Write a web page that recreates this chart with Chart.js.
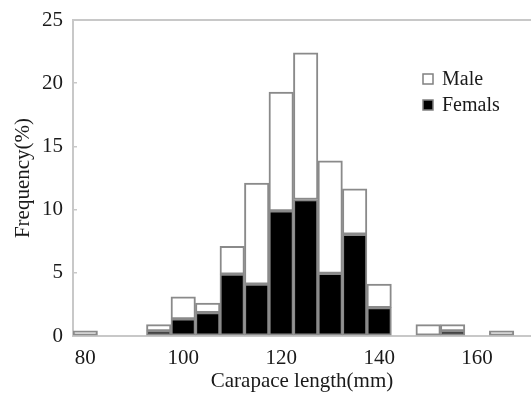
<!DOCTYPE html>
<html>
<head>
<meta charset="utf-8">
<script src="https://cdn.jsdelivr.net/npm/chart.js@4"></script>
<style>
  html, body { margin: 0; padding: 0; background: #fff; }
</style>
</head>
<body>
<canvas id="barChart" width="531" height="396"></canvas>
<script>
// carapace length bins (mm, bin centres) and frequencies (%)
var lengthBins = [80, 95, 100, 105, 110, 115, 120, 125, 130, 135, 140, 150, 155, 165];
var femaleFreq = [null, 0.4, 1.35, 1.85, 4.9, 4.1, 9.9, 10.8, 4.95, 8.05, 2.25, null, 0.4, null];
var maleFreq = [0.4, 0.5, 1.75, 0.75, 2.2, 8.0, 9.4, 11.6, 8.9, 3.6, 1.85, 0.9, 0.5, 0.4];
var xTicks = [80, 100, 120, 140, 160];
var yTicks = [0, 5, 10, 15, 20, 25];

var serif = '"Liberation Serif", "Times New Roman", serif';

function toPoints(vals) {
    return lengthBins.map(function (x, i) { return { x: x, y: vals[i] }; });
}

// legend drawn in the top right corner of the plot
var cornerLegend = {
    id: 'cornerLegend',
    afterDraw: function (chart, args, opts) {
        var ctx = chart.ctx;
        var sets = chart.data.datasets.slice().reverse();
        ctx.save();
        ctx.font = '20px ' + serif;
        ctx.textBaseline = 'middle';
        sets.forEach(function (ds, i) {
            var y = opts.y + i * opts.gap;
            ctx.fillStyle = ds.backgroundColor;
            ctx.fillRect(opts.x, y - 5, 10, 10);
            ctx.strokeStyle = '#808080';
            ctx.lineWidth = 1.5;
            ctx.strokeRect(opts.x, y - 5, 10, 10);
            ctx.fillStyle = '#1a1a1a';
            ctx.fillText(ds.label, opts.x + 19, y + 1);
        });
        ctx.restore();
    }
};

var ctx = document.getElementById("barChart").getContext('2d');
var myBarChart = new Chart(ctx, {
    type: 'bar',
    data: {
        datasets: [{
                label: "Femals",
                data: toPoints(femaleFreq),
                xAxisID: 'x',
                backgroundColor: '#000000',
                borderColor: '#8a8a8a',
                borderWidth: 2,
                borderSkipped: false,
                barPercentage: 1,
                categoryPercentage: 1
            }, {
                label: "Male",
                data: toPoints(maleFreq),
                xAxisID: 'x',
                backgroundColor: '#ffffff',
                borderColor: '#8a8a8a',
                borderWidth: 2,
                borderSkipped: false,
                barPercentage: 1,
                categoryPercentage: 1
            }
        ]
    },
    plugins: [cornerLegend],
    options: {
        responsive: false,
        animation: false,
        layout: { padding: { top: 20, left: 0, right: 0, bottom: 0 } },
        plugins: {
            legend: { display: false },
            tooltip: { enabled: false },
            cornerLegend: { x: 423, y: 79, gap: 26 }
        },
        scales: {
            x: {
                type: 'linear',
                position: 'bottom',
                min: 77.5,
                max: 171,
                offset: false,
                stacked: true,
                afterBuildTicks: function (s) { s.ticks = xTicks.map(function (v) { return { value: v }; }); },
                afterFit: function (s) { s.height = 60; s.paddingLeft = 0; s.paddingRight = 0; },
                grid: { display: false, drawTicks: false, offset: false },
                border: { color: '#c8c8c8', width: 2 },
                ticks: { font: { family: serif, size: 21 }, color: '#1a1a1a', padding: 10, maxRotation: 0 },
                title: { display: true, text: 'Carapace length(mm)', font: { family: serif, size: 21 }, color: '#1a1a1a', padding: { top: 0, bottom: 2 } }
            },
            xTop: {
                type: 'linear',
                position: 'top',
                min: 77.5,
                max: 171,
                offset: false,
                afterFit: function (s) { s.height = 0; },
                grid: { display: false, drawTicks: false, offset: false },
                border: { color: '#c8c8c8', width: 2 },
                ticks: { display: false }
            },
            y: {
                min: 0,
                max: 25,
                stacked: true,
                afterBuildTicks: function (s) { s.ticks = yTicks.map(function (v) { return { value: v }; }); },
                afterFit: function (s) { s.width = 73; s.paddingTop = 0; s.paddingBottom = 0; },
                grid: { drawOnChartArea: false, drawTicks: true, tickLength: -4, color: '#c8c8c8', lineWidth: 1.5 },
                border: { color: '#c8c8c8', width: 2 },
                ticks: { font: { family: serif, size: 21 }, color: '#1a1a1a', padding: 14 },
                title: { display: true, text: 'Frequency(%)', font: { family: serif, size: 21 }, color: '#1a1a1a', padding: { top: 11, bottom: 0 } }
            }
        }
    }
});
</script>
</body>
</html>
